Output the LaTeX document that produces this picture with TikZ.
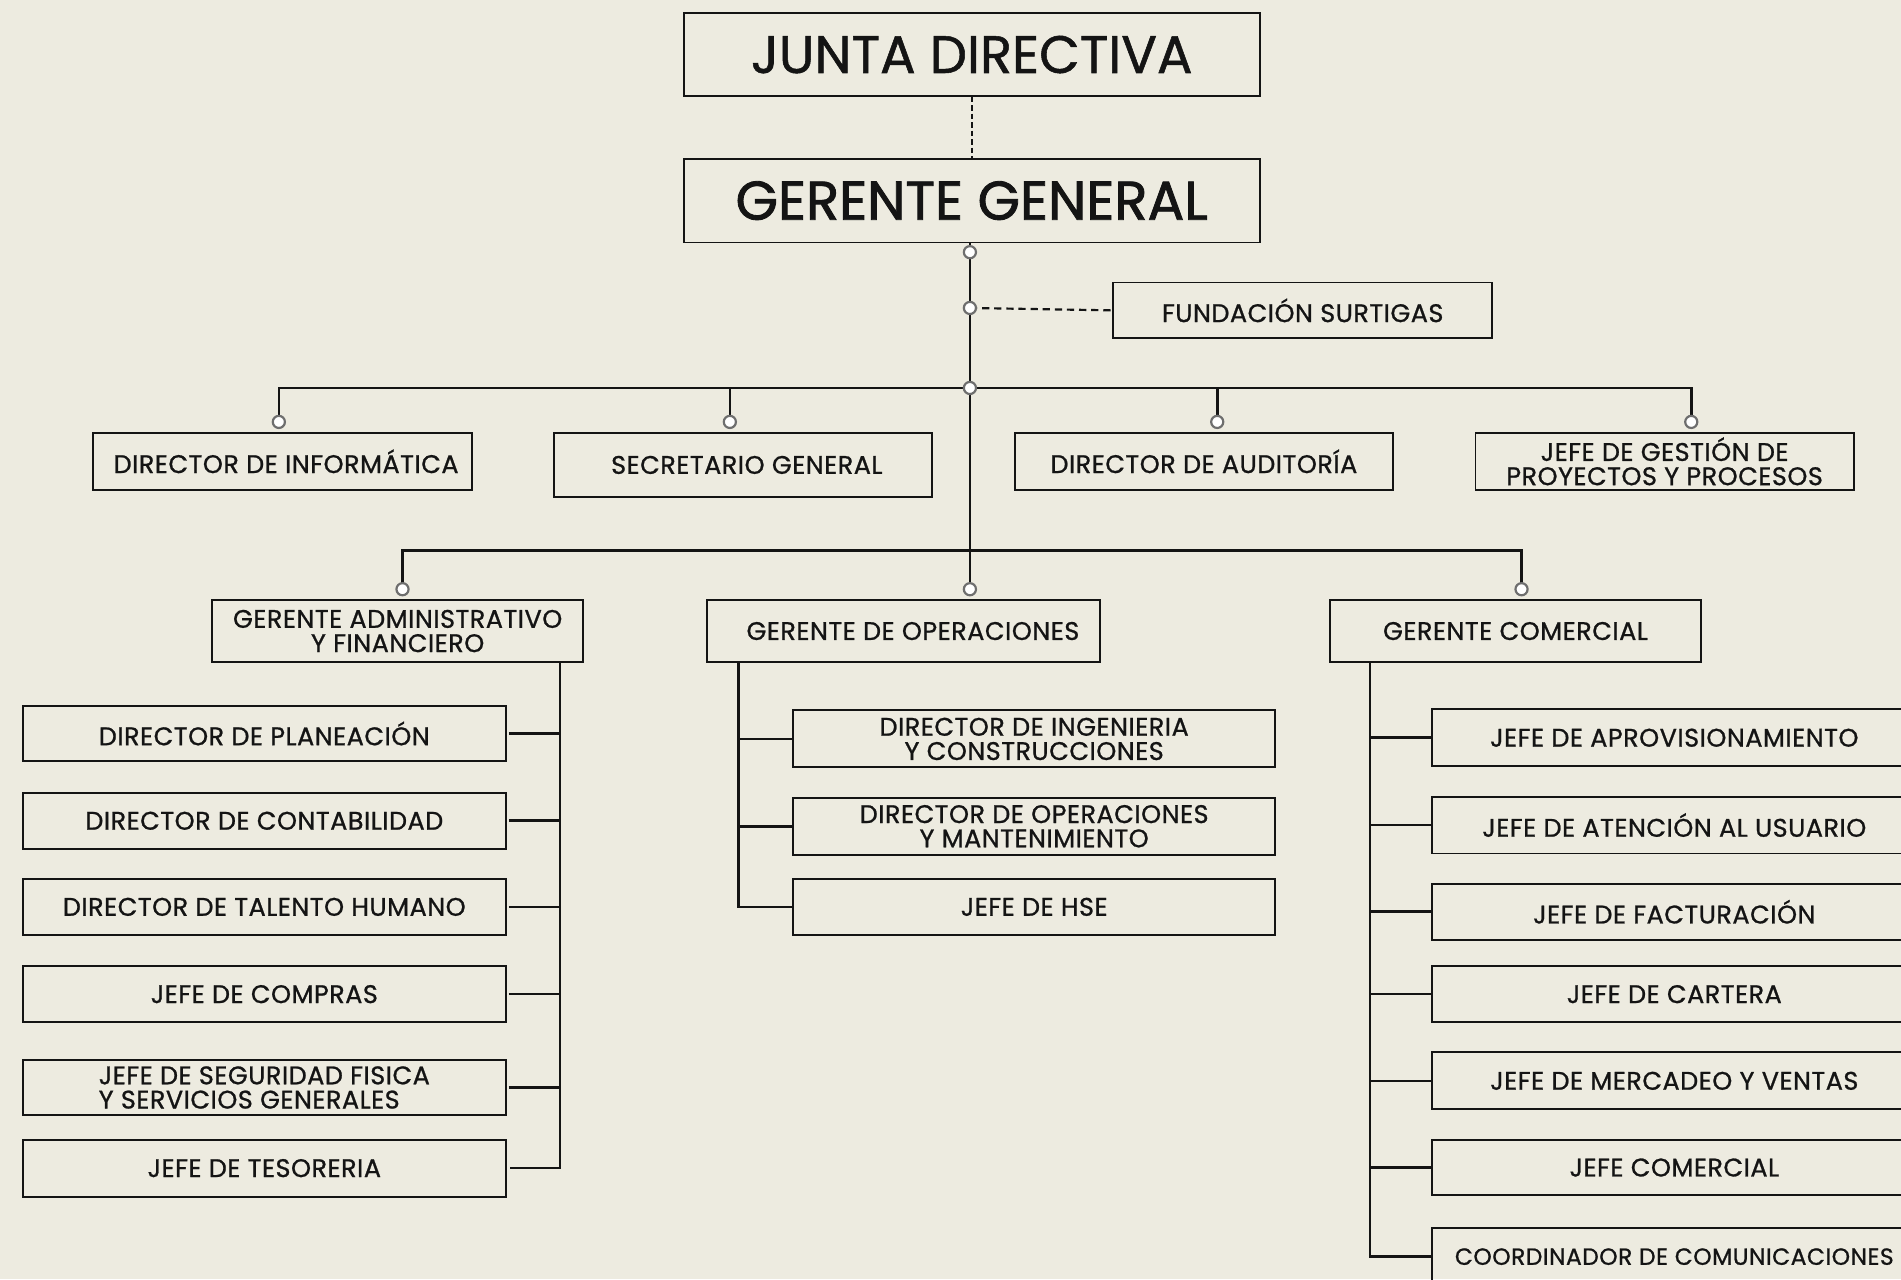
\documentclass[tikz,border=0pt]{standalone}
\usepackage{fontspec}
\setmainfont[FakeBold=0.9,LetterSpace=2]{Poppins}
\newfontfamily\titlefont[FakeBold=1.6]{Poppins}
\newfontfamily\juntafont[FakeBold=1.0]{Poppins}
\definecolor{bg}{RGB}{237,235,224}
\definecolor{ink}{RGB}{20,20,20}
\definecolor{ring}{RGB}{110,110,110}
\begin{document}
\begin{tikzpicture}[x=1pt,y=-1pt,
  box/.style={draw=ink, line width=1.6pt, inner sep=0pt, align=center, text=ink,
    font=\fontsize{21}{20}\selectfont},
  wh/.style 2 args={minimum width=#1, minimum height=#2},
  title/.style={box, font=\titlefont\fontsize{45}{48}\selectfont},
  jtitle/.style={box, font=\juntafont\fontsize{43.5}{48}\selectfont},
  wire/.style={draw=ink, line width=2.2pt},
  dotline/.style={draw=ink, line width=1.8pt, dash pattern=on 4.5pt off 2.5pt},
  dashline/.style={draw=ink, line width=1.8pt, dash pattern=on 6pt off 4pt},
  knob/.style={circle, draw=ring, fill=white, line width=1.8pt, minimum size=10pt, inner sep=0pt},
]
\useasboundingbox (0,0) rectangle (1568,1055);
\clip (0,0) rectangle (1568,1055);
\fill[bg] (0,0) rectangle (1568,1055);

% top
\node[jtitle, wh={475pt}{68pt}] (junta) at (801.5,45) {JUNTA DIRECTIVA};
\node[title, wh={475pt}{69pt}] (gg) at (801.5,165.5) {GERENTE GENERAL};
\node[box, wh={313pt}{46pt}] (fund) at (1074.5,256) {FUNDACIÓN SURTIGAS};

% level 1
\node[box, wh={312pt}{47pt}] (inf) at (233,380.5) {\hspace*{6pt}DIRECTOR DE INFORMÁTICA};
\node[box, wh={312pt}{53pt}] (sec) at (613,383.5) {\hspace*{6pt}SECRETARIO GENERAL};
\node[box, wh={312pt}{47pt}] (aud) at (993,380.5) {DIRECTOR DE AUDITORÍA};
\node[box, wh={312pt}{47pt}] (jgp) at (1373,380.5) {JEFE DE GESTIÓN DE\\PROYECTOS Y PROCESOS};

% level 2
\node[box, wh={306pt}{51pt}] (gaf) at (328,520.5) {GERENTE ADMINISTRATIVO\\Y FINANCIERO};
\node[box, wh={324pt}{51pt}] (gop) at (745,520.5) {\hspace*{16pt}GERENTE DE OPERACIONES};
\node[box, wh={306pt}{51pt}] (gco) at (1250,520.5) {GERENTE COMERCIAL};

% left column
\node[box, wh={398pt}{46pt}] (pla) at (218,605) {DIRECTOR DE PLANEACIÓN};
\node[box, wh={398pt}{46pt}] (con) at (218,677) {DIRECTOR DE CONTABILIDAD};
\node[box, wh={398pt}{46pt}] (tal) at (218,748) {DIRECTOR DE TALENTO HUMANO};
\node[box, wh={398pt}{46pt}] (com) at (218,820) {JEFE DE COMPRAS};
\node[box, wh={398pt}{46pt}, align=left] (seg) at (218,897) {JEFE DE SEGURIDAD FISICA\\Y SERVICIOS GENERALES};
\node[box, wh={398pt}{47pt}] (tes) at (218,963.5) {JEFE DE TESORERIA};

% middle column
\node[box, wh={398pt}{47pt}] (ing) at (853,609.5) {DIRECTOR DE INGENIERIA\\Y CONSTRUCCIONES};
\node[box, wh={398pt}{47pt}] (opm) at (853,681.5) {DIRECTOR DE OPERACIONES\\Y MANTENIMIENTO};
\node[box, wh={398pt}{46pt}] (hse) at (853,748) {JEFE DE HSE};

% right column
\node[box, wh={400pt}{47pt}] (apr) at (1381,608.5) {JEFE DE APROVISIONAMIENTO};
\node[box, wh={400pt}{47pt}] (ate) at (1381,680.5) {JEFE DE ATENCIÓN AL USUARIO};
\node[box, wh={400pt}{46pt}] (fac) at (1381,752) {JEFE DE FACTURACIÓN};
\node[box, wh={400pt}{46pt}] (car) at (1381,820) {JEFE DE CARTERA};
\node[box, wh={400pt}{47pt}] (mer) at (1381,891.5) {JEFE DE MERCADEO Y VENTAS};
\node[box, wh={400pt}{46pt}] (jco) at (1381,963) {JEFE COMERCIAL};
\node[box, wh={400pt}{47pt}, font=\fontsize{19.3}{20}\selectfont] (cco) at (1381,1036.5) {COORDINADOR DE COMUNICACIONES};

% junction coordinates
\coordinate (c1) at (800,208);
\coordinate (c2) at (800,254);
\coordinate (c3) at (800,320);
\coordinate (d1) at (230,348);
\coordinate (d2) at (602,348);
\coordinate (d3) at (1004,348);
\coordinate (d4) at (1395,348);
\coordinate (c4) at (800,454);
\coordinate (e1) at (332,486);
\coordinate (e2) at (800,486);
\coordinate (e3) at (1255,486);
\coordinate (lv) at (462,546);
\coordinate (mv) at (609,546);
\coordinate (rv) at (1130,546);

% connectors
\draw[dotline] (junta.south) -- (gg.north);
\draw[wire] (c1 |- gg.south) -- (e2);
\draw[dashline] (c2) -- (fund.west);
\draw[wire] (d1) |- (c3) -| (d4);
\draw[wire] (c3 -| d2) -- (d2);
\draw[wire] (c3 -| d3) -- (d3);
\draw[wire] (e1) |- (c4) -| (e3);

\draw[wire] (lv) |- ([xshift=3pt]tes.east);
\foreach \n in {pla,con,tal,com,seg}
  \draw[wire] ([xshift=2pt]\n.east) -- (\n.east -| lv);

\draw[wire] (mv) |- (hse.west);
\foreach \n in {ing,opm}
  \draw[wire] (\n.west -| mv) -- (\n.west);

\draw[wire] (rv) |- (cco.west);
\foreach \n in {apr,ate,fac,car,mer,jco}
  \draw[wire] (\n.west -| rv) -- (\n.west);

% knobs
\foreach \p in {c1,c2,c3,d1,d2,d3,d4,e1,e2,e3}
  \node[knob] (k\p) at (\p) {};
\end{tikzpicture}
\end{document}
